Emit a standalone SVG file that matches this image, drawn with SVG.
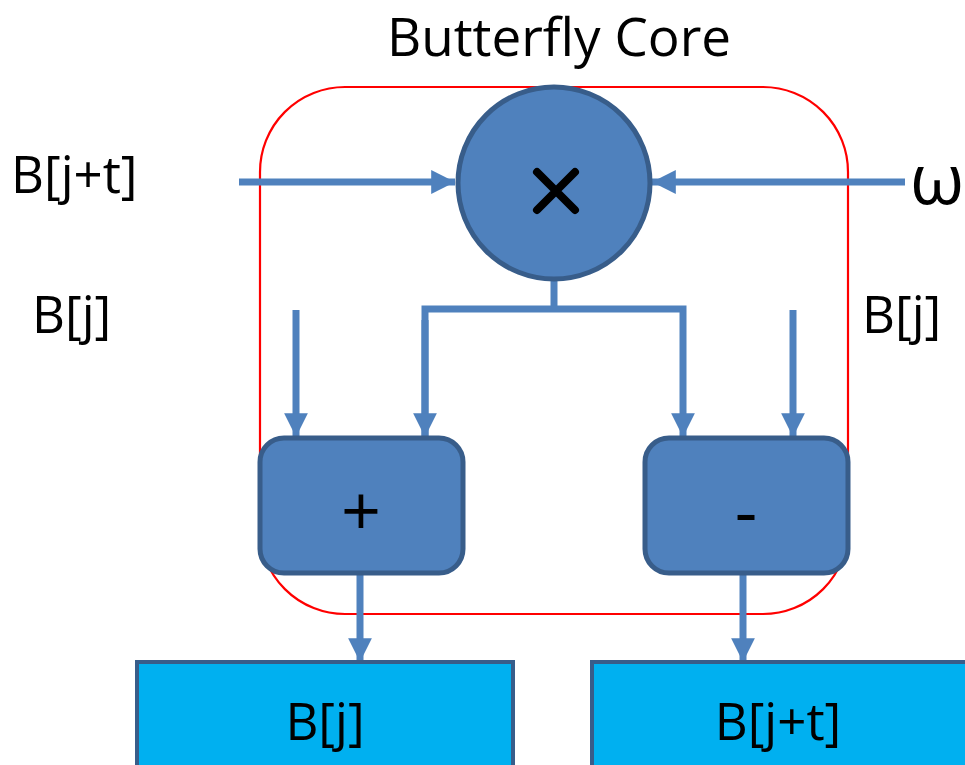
<svg xmlns="http://www.w3.org/2000/svg" width="965" height="765" viewBox="0 0 965 765">
<style>
text{font-family:"Open Sans","Liberation Sans",sans-serif;fill:#000}
.lbl{font-size:51px}
.op{fill:#4F81BD;stroke:#385D8A;stroke-width:5}
.out{fill:#00B0F0;stroke:#385D8A;stroke-width:4}
.wire{stroke:#4F81BD;stroke-width:7;fill:none}
</style>
<defs>
<marker id="ah" viewBox="0 0 10 10" refX="10" refY="5" markerWidth="3.4" markerHeight="3.4" markerUnits="strokeWidth" orient="auto">
<path d="M0,0 L10,5 L0,10 Z" fill="#4F81BD"/>
</marker>
</defs>
<rect width="965" height="765" fill="#fff"/>
<text x="559" y="56" text-anchor="middle" style="font-size:53px">Butterfly Core</text>
<g id="core"><rect x="260" y="87" width="588" height="527" rx="85" fill="none" stroke="#FF0000" stroke-width="2.2"/></g>
<g id="labels">
<text class="lbl" x="11" y="193">B[j+t]</text>
<text class="lbl" x="32" y="333">B[j]</text>
<text class="lbl" x="862" y="333">B[j]</text>
<text x="910" y="204" style="font-size:70px">ω</text>
</g>
<g id="connectors">
<line class="wire" x1="239" y1="182" x2="455" y2="182" marker-end="url(#ah)"/>
<line class="wire" x1="905" y1="182" x2="652" y2="182" marker-end="url(#ah)"/>
<polyline class="wire" points="554,280 554,309"/>
<polyline class="wire" points="425,437 425,309 683,309 683,437" marker-end="url(#ah)"/>
<line class="wire" x1="425" y1="320" x2="425" y2="437" marker-end="url(#ah)"/>
<line class="wire" x1="296" y1="310" x2="296" y2="437" marker-end="url(#ah)"/>
<line class="wire" x1="793" y1="310" x2="793" y2="437" marker-end="url(#ah)"/>
<line class="wire" x1="360" y1="573" x2="360" y2="662" marker-end="url(#ah)"/>
<line class="wire" x1="743" y1="573" x2="743" y2="662" marker-end="url(#ah)"/>
</g>
<g id="mul">
<circle class="op" cx="554" cy="183" r="96" stroke-width="4"/>
<path d="M537,172 L575,210 M575,172 L537,210" stroke="#000" stroke-width="8" stroke-linecap="round"/>
</g>
<g id="add">
<rect class="op" x="260" y="438" width="203" height="135" rx="24"/>
<text x="361" y="536" text-anchor="middle" style="font-size:70px">+</text>
</g>
<g id="sub">
<rect class="op" x="645" y="438" width="203" height="135" rx="24"/>
<text x="746" y="536" text-anchor="middle" style="font-size:70px">-</text>
</g>
<g id="outj">
<rect class="out" x="137" y="662" width="376" height="110"/>
<text class="lbl" x="325" y="740" text-anchor="middle">B[j]</text>
</g>
<g id="outjt">
<rect class="out" x="592" y="662" width="376" height="110"/>
<text class="lbl" x="778" y="740" text-anchor="middle">B[j+t]</text>
</g>
</svg>
